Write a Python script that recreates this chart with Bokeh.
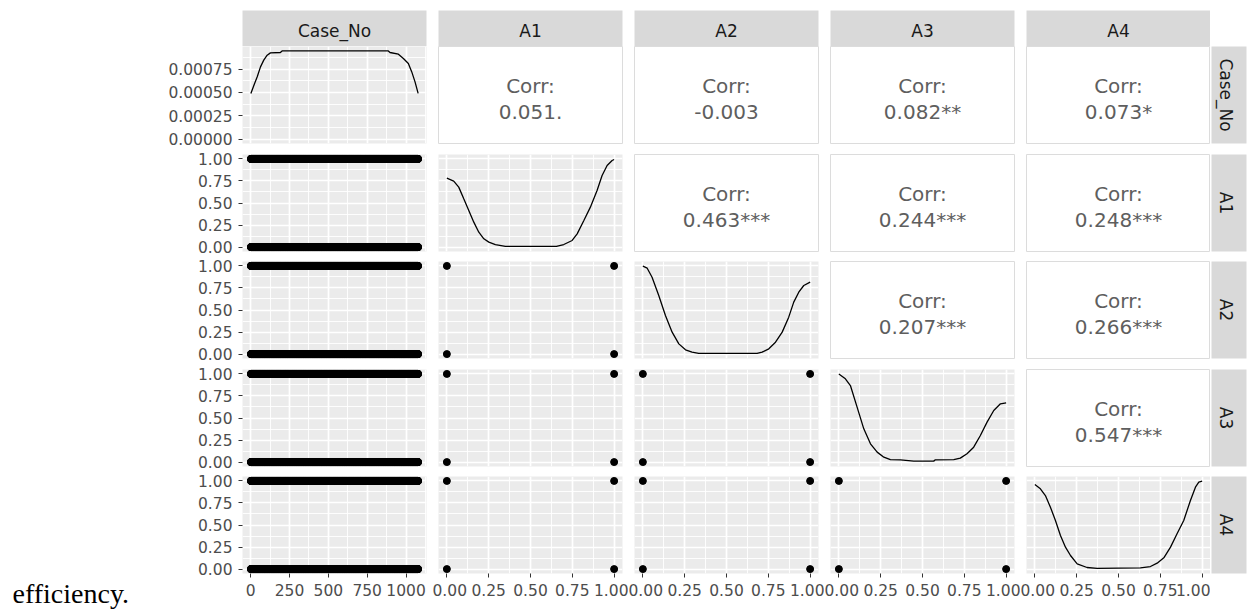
import math
from bokeh.plotting import figure
from bokeh.layouts import row, column
from bokeh.models import Range1d, FixedTicker, NumeralTickFormatter, Grid, Spacer
from bokeh.core.properties import value
from bokeh.embed import file_html
from bokeh.resources import INLINE

# ---------------- data ----------------
variables = ["Case_No", "A1", "A2", "A3", "A4"]
case_no = list(range(1, 1079))          # case identifiers 1..1078
binary_levels = [0, 1]                  # A1..A4 take only the values 0 and 1
pair_x = [0, 0, 1, 1]                   # observed (x, y) combinations of two binary items
pair_y = [0, 1, 0, 1]

case_density_x = [1, 25, 42, 63, 84, 106, 127, 191, 202, 500, 886, 897, 951, 983, 1015, 1037, 1058, 1078]
case_density_y = [0.00049, 0.000597, 0.000668, 0.000775, 0.000847, 0.0009, 0.000925, 0.000929, 0.000946,
                  0.000946, 0.000946, 0.000929, 0.000911, 0.000865, 0.000811, 0.000721, 0.000614, 0.00049]

# density curves of the binary items (relative height, panel peak = 1)
a1_dx = [0, 0.041, 0.071, 0.101, 0.131, 0.161, 0.191, 0.221, 0.251, 0.29, 0.35,
         0.655, 0.699, 0.749, 0.779, 0.819, 0.858, 0.898, 0.928, 0.958, 0.988, 1.0]
a1_dy = [0.782, 0.748, 0.68, 0.547, 0.415, 0.283, 0.169, 0.094, 0.056, 0.029, 0.007,
         0.007, 0.029, 0.075, 0.15, 0.302, 0.453, 0.642, 0.812, 0.925, 0.982, 0.993]
a2_dx = [0, 0.026, 0.055, 0.095, 0.135, 0.175, 0.215, 0.255, 0.294, 0.334,
         0.683, 0.713, 0.753, 0.793, 0.833, 0.872, 0.902, 0.932, 0.962, 1.0]
a2_dy = [0.997, 0.974, 0.872, 0.664, 0.438, 0.249, 0.116, 0.048, 0.022, 0.007,
         0.007, 0.022, 0.06, 0.135, 0.249, 0.419, 0.589, 0.702, 0.778, 0.816]
a3_dx = [0, 0.039, 0.069, 0.109, 0.149, 0.189, 0.229, 0.269, 0.308, 0.368, 0.448,
         0.567, 0.577, 0.687, 0.726, 0.766, 0.806, 0.846, 0.886, 0.926, 0.966, 1.0]
a3_dy = [0.998, 0.944, 0.868, 0.623, 0.377, 0.207, 0.113, 0.056, 0.029, 0.026, 0.011,
         0.011, 0.026, 0.029, 0.045, 0.094, 0.169, 0.302, 0.453, 0.585, 0.661, 0.672]
a4_dx = [0, 0.033, 0.063, 0.093, 0.123, 0.153, 0.183, 0.213, 0.253, 0.312, 0.372,
         0.631, 0.691, 0.731, 0.771, 0.811, 0.85, 0.89, 0.93, 0.96, 0.98, 1.0]
a4_dy = [0.959, 0.91, 0.834, 0.702, 0.551, 0.381, 0.249, 0.154, 0.06, 0.018, 0.007,
         0.014, 0.029, 0.067, 0.128, 0.249, 0.4, 0.551, 0.778, 0.929, 0.986, 0.997]
binary_densities = {"A1": (a1_dx, a1_dy), "A2": (a2_dx, a2_dy),
                    "A3": (a3_dx, a3_dy), "A4": (a4_dx, a4_dy)}

corr_labels = {
    (0, 1): "0.051.", (0, 2): "-0.003", (0, 3): "0.082**", (0, 4): "0.073*",
    (1, 2): "0.463***", (1, 3): "0.244***", (1, 4): "0.248***",
    (2, 3): "0.207***", (2, 4): "0.266***",
    (3, 4): "0.547***",
}
caption_text = "efficiency."

unit_ticks = [0, 0.25, 0.5, 0.75, 1.0]
unit_minor = [0.125, 0.375, 0.625, 0.875]
case_ticks = [0, 250, 500, 750, 1000]
case_minor = [125, 375, 625, 875, 1125]
dens_ticks = [0, 0.00025, 0.0005, 0.00075]
dens_minor = [0.000125, 0.000375, 0.000625, 0.000875]

# ---------------- styling / layout ----------------
FONT = "DejaVu Sans"
PANEL_W, PANEL_H = 184, 97
CAPTION_W = 150
col_left = [242, 6, 6, 6, 6]
col_right = [6, 6, 6, 6, 0]
row_top = [0, 5, 5, 5, 5]
row_bottom = [6, 5, 6, 5, 39]
STRIP_FILL = "#D9D9D9"
PANEL_BG = "#EBEBEB"

case_lo, case_hi = min(case_no), max(case_no)
case_pad = 0.05 * (case_hi - case_lo)
dens_top = max(case_density_y)


def case_range():
    return Range1d(case_lo - case_pad, case_hi + case_pad)


def unit_range():
    return Range1d(-0.05, 1.05)


def dens_range():
    return Range1d(-0.05 * dens_top, 1.05 * dens_top)


def add_grids(p, xt, xm, yt, ym):
    p.center = [r for r in p.center if not isinstance(r, Grid)]
    for dim, t, m in ((0, xt, xm), (1, yt, ym)):
        g = Grid(dimension=dim, ticker=FixedTicker(ticks=t, minor_ticks=m),
                 grid_line_color="white", grid_line_width=1.7,
                 minor_grid_line_color="white", minor_grid_line_width=0.9)
        p.add_layout(g, "center")


def style_axis(ax, ticks, fmt):
    ax.ticker = FixedTicker(ticks=ticks)
    ax.formatter = NumeralTickFormatter(format=fmt)
    ax.major_tick_in = 0
    ax.major_tick_out = 4
    ax.minor_tick_in = 0
    ax.minor_tick_out = 0
    ax.axis_line_color = None
    ax.major_tick_line_color = "#333333"
    ax.major_tick_line_width = 1
    ax.major_label_text_font = FONT
    ax.major_label_text_font_size = "15.5px"
    ax.major_label_text_color = "#4D4D4D"
    ax.major_label_standoff = 6


def make_panel(i, j, left_border):
    xr = case_range() if j == 0 else unit_range()
    yr = dens_range() if (i == 0 and j == 0) else unit_range()
    p = figure(width=left_border + PANEL_W + col_right[j],
               height=row_top[i] + PANEL_H + row_bottom[i],
               x_range=xr, y_range=yr, output_backend="svg", toolbar_location=None,
               x_axis_location="below" if i == 4 else None,
               y_axis_location="left" if j == 0 else None,
               min_border_left=left_border, min_border_right=col_right[j],
               min_border_top=row_top[i], min_border_bottom=row_bottom[i])
    p.border_fill_color = "white"
    p.outline_line_color = None
    if j == 0 and i == 4:
        style_axis(p.xaxis[0], case_ticks, "0")
    elif i == 4:
        style_axis(p.xaxis[0], unit_ticks, "0.00")
    if j == 0 and i == 0:
        style_axis(p.yaxis[0], dens_ticks, "0.00000")
    elif j == 0:
        style_axis(p.yaxis[0], unit_ticks, "0.00")

    xt, xm = (case_ticks, case_minor) if j == 0 else (unit_ticks, unit_minor)
    yt, ym = (dens_ticks, dens_minor) if (i == 0 and j == 0) else (unit_ticks, unit_minor)

    if j > i:
        # correlation panel
        p.center = [r for r in p.center if not isinstance(r, Grid)]
        p.background_fill_color = "white"
        p.outline_line_color = "#DCDCDC"
        p.outline_line_width = 1
        p.text(x=[0.5], y=[0.6], text=["Corr:"], text_align="center", text_baseline="middle",
               text_font=value(FONT), text_font_size="20px", text_color="#5E5E5E")
        p.text(x=[0.5], y=[0.31], text=[corr_labels[(i, j)]], text_align="center",
               text_baseline="middle", text_font=value(FONT), text_font_size="20px",
               text_color="#5E5E5E")
        return p

    p.background_fill_color = PANEL_BG
    add_grids(p, xt, xm, yt, ym)
    if i == j:
        if i == 0:
            p.line(case_density_x, case_density_y, line_color="black", line_width=1.3)
        else:
            dx, dy = binary_densities[variables[i]]
            p.line(dx, dy, line_color="black", line_width=1.3)
        return p

    if j == 0:
        for lvl in binary_levels:
            p.scatter(case_no, [lvl] * len(case_no), size=7, color="black")
    else:
        p.scatter(pair_x, pair_y, size=7, color="black")
    return p


def blank_fig(width, height, left, right, top, bottom, fill, xr=(0, 1), yr=(0, 1)):
    s = figure(width=width, height=height, x_range=Range1d(*xr), y_range=Range1d(*yr),
               output_backend="svg", toolbar_location=None,
               x_axis_location=None, y_axis_location=None,
               min_border_left=left, min_border_right=right,
               min_border_top=top, min_border_bottom=bottom)
    s.center = [r for r in s.center if not isinstance(r, Grid)]
    s.background_fill_color = fill
    s.border_fill_color = "white"
    s.outline_line_color = None
    return s


# top strips
top_children = []
for j, name in enumerate(variables):
    s = blank_fig(col_left[j] + PANEL_W + col_right[j], 46, col_left[j], col_right[j], 10, 0, STRIP_FILL)
    s.text(x=[0.5], y=[0.42], text=[name], text_align="center", text_baseline="middle",
           text_font=value(FONT), text_font_size="17px", text_color="#1A1A1A")
    top_children.append(s)
top_children.append(Spacer(width=38, height=46))

rows = [row(*top_children)]
for i in range(5):
    children = []
    for j in range(5):
        lb = col_left[j]
        if i == 4 and j == 0:
            lb = col_left[0] - CAPTION_W
        children.append(make_panel(i, j, lb))
    rs = blank_fig(38, row_top[i] + PANEL_H + row_bottom[i], 1, 2, row_top[i], row_bottom[i], STRIP_FILL)
    rs.text(x=[0.42], y=[0.5], text=[variables[i]], angle=-math.pi / 2, text_align="center",
            text_baseline="middle", text_font=value(FONT), text_font_size="17px",
            text_color="#1A1A1A")
    children.append(rs)
    if i == 4:
        h = row_top[i] + PANEL_H + row_bottom[i]
        cap = blank_fig(CAPTION_W, h, 0, 0, 0, 0, "white", xr=(0, CAPTION_W), yr=(0, h))
        cap.frame_align = False
        cap.text(x=[12], y=[19], text=[caption_text], text_align="left",
                 text_baseline="alphabetic", text_font=value("Liberation Serif"),
                 text_font_size="28px", text_color="black")
        children.insert(0, cap)
    rows.append(row(*children))

layout = column(*rows)
open("out.html", "w").write(file_html(layout, INLINE))
